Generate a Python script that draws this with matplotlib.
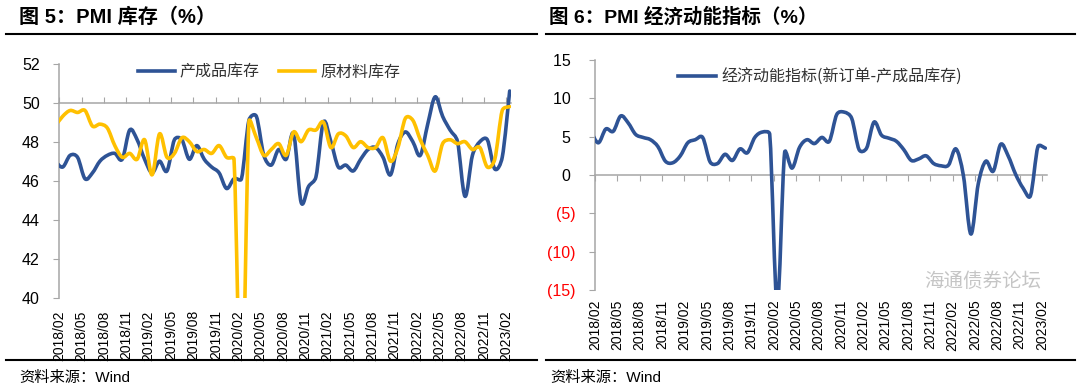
import numpy as np
import matplotlib
matplotlib.use('Agg')
import matplotlib.pyplot as plt
from matplotlib.path import Path
from matplotlib.patches import PathPatch
from matplotlib.lines import Line2D

plt.rcParams['font.family'] = ['Liberation Sans', 'Noto Sans CJK SC', 'DejaVu Sans']

# monthly data, 2018/01 .. 2023/02 (2018/01 only feeds the clipped start of the line)
finished = [47.0, 46.7, 47.3, 47.2, 46.1, 46.4, 47.0, 47.3, 47.4, 47.1, 48.6, 48.1,
            47.1, 46.4, 47.0, 46.5, 48.1, 48.1, 47.1, 47.8, 47.1, 46.7, 46.4, 45.6,
            46.1, 46.1, 49.1, 49.3, 47.3, 46.8, 47.6, 47.1, 48.4, 44.9, 45.7, 46.2,
            49.0, 48.0, 46.7, 46.8, 46.5, 47.1, 47.6, 47.7, 47.2, 46.3, 47.9, 48.5,
            48.0, 47.3, 48.9, 50.3, 49.3, 48.6, 48.0, 45.2, 47.3, 48.0, 48.1, 46.6,
            47.2, 50.6]
raw = [48.8, 49.3, 49.6, 49.5, 49.6, 48.8, 48.9, 48.7, 47.8, 47.2, 47.4, 47.1,
       48.1, 46.3, 48.4, 47.2, 47.4, 48.2, 48.0, 47.5, 47.6, 47.4, 47.8, 47.2,
       47.1, 33.9, 49.0, 48.2, 47.3, 47.6, 47.9, 47.3, 48.5, 48.0, 48.6, 48.6,
       49.0, 47.7, 48.4, 48.3, 47.7, 48.0, 47.7, 47.7, 48.2, 47.0, 47.7, 49.2,
       49.1, 48.1, 47.3, 46.5, 47.9, 48.1, 47.9, 48.0, 47.6, 47.7, 46.7, 47.1,
       49.6, 49.8]
momentum = [5.7, 4.2, 6.0, 5.7, 7.7, 6.8, 5.3, 4.9, 4.6, 3.7, 1.8, 1.6,
            2.5, 4.2, 4.6, 4.9, 1.7, 1.5, 2.7, 1.9, 3.4, 2.9, 4.9, 5.6,
            5.3, -16.8, 2.9, 0.9, 3.6, 4.6, 4.1, 4.9, 4.4, 7.9, 8.2, 7.4,
            3.3, 3.5, 6.9, 5.2, 4.8, 4.4, 3.3, 1.9, 2.1, 2.5, 1.5, 1.2,
            1.3, 3.4, -0.1, -7.7, -1.1, 1.8, 0.5, 4.0, 2.5, 0.1, -1.7, -2.7,
            3.7, 3.5]

tick_labels = ['2018/02', '2018/05', '2018/08', '2018/11', '2019/02', '2019/05', '2019/08',
               '2019/11', '2020/02', '2020/05', '2020/08', '2020/11', '2021/02', '2021/05',
               '2021/08', '2021/11', '2022/02', '2022/05', '2022/08', '2022/11', '2023/02']

blue = '#2E5395'
yellow = '#FFC000'
gray = '#A6A6A6'
W, H = 1080, 388

# x position of each month: data sit a bit right of the month tick (Excel date axis)
x = np.arange(len(finished)) - 1 + 0.45


def smooth(xs, ys, sx, sy):
    # Excel-like smoothed line: cubic bezier through the points,
    # handles shortened next to big jumps so the curve does not overshoot
    p = np.column_stack([np.asarray(xs, float) * sx, np.asarray(ys, float) * sy])
    n = len(p)
    tang = np.array([(p[min(k + 1, n - 1)] - p[max(k - 1, 0)]) / 6 for k in range(n)])
    verts = [p[0]]
    codes = [Path.MOVETO]
    for k in range(n - 1):
        seg = np.hypot(*(p[k + 1] - p[k]))
        t1, t2 = tang[k], tang[k + 1]
        l1, l2 = np.hypot(*t1), np.hypot(*t2)
        if l1 > 0.5 * seg:
            t1 = t1 * 0.5 * seg / l1
        if l2 > 0.5 * seg:
            t2 = t2 * 0.5 * seg / l2
        verts += [p[k] + t1, p[k + 1] - t2, p[k + 1]]
        codes += [Path.CURVE4] * 3
    verts = np.array(verts) / [sx, sy]
    return Path(verts, codes)


def draw(ax, ys, color, sy):
    ax.add_patch(PathPatch(smooth(x, ys, 7.45, sy), facecolor='none', edgecolor=color,
                           lw=2.6, joinstyle='round', capstyle='round', zorder=3))


def style(ax, cross, tickdir, pad):
    ax.set_xlim(0, 60.6)
    for s in ['right', 'bottom']:
        ax.spines[s].set_visible(False)
    ax.spines['top'].set_position(('data', cross))
    for s in ['top', 'left']:
        ax.spines[s].set_color(gray)
        ax.spines[s].set_linewidth(1.1)
    ax.set_xticks(np.arange(0, 61, 3))
    ax.set_xticklabels(tick_labels, rotation=90, fontsize=10)
    ax.tick_params(axis='x', top=True, bottom=False, labeltop=False, labelbottom=True,
                   direction=tickdir, length=4, color=gray, pad=pad)
    ax.tick_params(axis='y', direction='out', length=4, color=gray, labelsize=11.5, pad=10)
    ax.patch.set_visible(False)


fig = plt.figure(figsize=(W / 100, H / 100), dpi=100)

# ---- left: PMI inventories
ax1 = fig.add_axes([59.3 / W, 1 - 297.7 / H, 451.5 / W, 234 / H])
style(ax1, 50, 'out', 5)
ax1.set_ylim(40, 52)
ax1.set_yticks(range(40, 53, 2))
draw(ax1, finished, blue, 19.5)
draw(ax1, raw, yellow, 19.5)
h1 = [Line2D([], [], color=blue, lw=2.6), Line2D([], [], color=yellow, lw=2.6)]
ax1.legend(h1, ['产成品库存', '原材料库存'], loc='center', bbox_to_anchor=(269 / W, 1 - 72 / H),
           bbox_transform=fig.transFigure, ncol=2, frameon=False,
           prop={'family': ['Noto Sans CJK SC'], 'size': 11.5}, labelcolor='#333333',
           handlelength=2.3, handletextpad=0.3, columnspacing=1.2)

# ---- right: momentum = new orders - finished goods
ax2 = fig.add_axes([595 / W, 1 - 290 / H, 451.5 / W, 230 / H])
style(ax2, 0, 'in', 7)
ax2.set_ylim(-15, 15)
ax2.set_yticks(range(-15, 16, 5))
ax2.set_yticklabels(['(15)', '(10)', '(5)', '0 ', '5 ', '10 ', '15 '])
for lab, v in zip(ax2.get_yticklabels(), range(-15, 16, 5)):
    lab.set_color('#FF0000' if v < 0 else 'black')
draw(ax2, momentum, blue, 7.67)
ax2.legend([Line2D([], [], color=blue, lw=2.6)], ['经济动能指标(新订单-产成品库存)'], loc='center',
           bbox_to_anchor=(820 / W, 1 - 77 / H), bbox_transform=fig.transFigure, frameon=False,
           prop={'family': ['Noto Sans CJK SC'], 'size': 11.5}, labelcolor='#333333',
           handlelength=2.4, handletextpad=0.3)

# ---- titles, rules, sources
fig.text(19 / W, 1 - 17 / H, '图 5：PMI 库存（%）', fontsize=14.5, fontweight='bold', va='center')
fig.text(549 / W, 1 - 17 / H, '图 6：PMI 经济动能指标（%）', fontsize=14, fontweight='bold', va='center')
for x0, x1 in [(6, 537), (546, 1075)]:
    fig.add_artist(Line2D([x0 / W, x1 / W], [1 - 34 / H] * 2, color='black', lw=1.5,
                          transform=fig.transFigure))
    fig.add_artist(Line2D([x0 / W, x1 / W], [1 - 360 / H] * 2, color='black', lw=1.5,
                          transform=fig.transFigure))
fig.text(19 / W, 1 - 378 / H, '资料来源：Wind', fontsize=11, va='center')
fig.text(550 / W, 1 - 378 / H, '资料来源：Wind', fontsize=11, va='center')
# faint watermark of the source page, kept clear of the tick labels
fig.text(983 / W, 1 - 282 / H, '海通债券论坛', fontsize=14, color='#8c8c8c', alpha=0.5,
         ha='center', va='center')

fig.savefig('out.png', dpi=100)
